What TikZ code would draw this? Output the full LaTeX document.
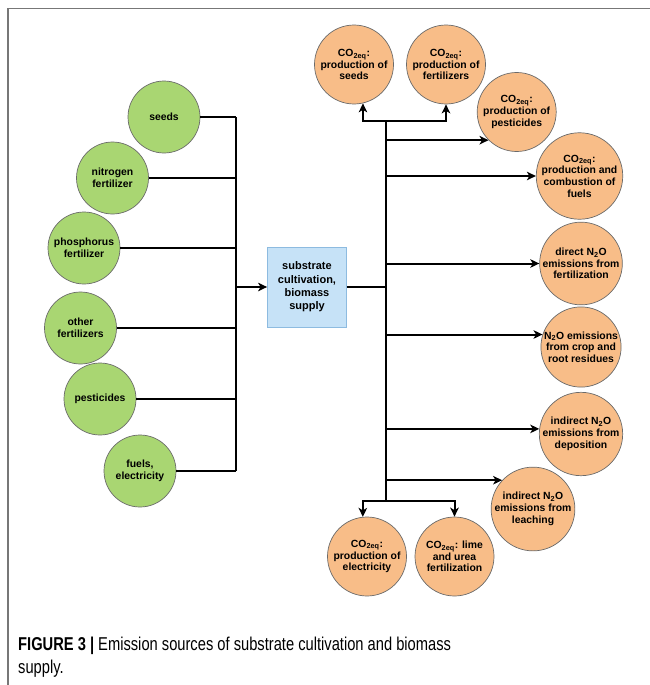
\documentclass[tikz,border=0pt]{standalone}
\usepackage{fontspec}
\setmainfont{Liberation Sans}
\newfontfamily\capfont[FakeStretch=0.79]{Liberation Sans}
\usetikzlibrary{arrows.meta}
\definecolor{gfill}{HTML}{A9D672}
\definecolor{ofill}{HTML}{F8BD88}
\definecolor{bfill}{HTML}{C6E2F7}
\definecolor{bdraw}{HTML}{8DBBE0}
\definecolor{cdraw}{HTML}{6A6A6A}
\definecolor{frame}{HTML}{777777}
\tikzset{
  x=1pt, y=-1pt,
  gcirc/.style={circle, draw=cdraw, line width=0.7pt, fill=gfill, minimum size=72pt, inner sep=0pt, align=center, font=\fontsize{10.4}{11.7}\selectfont\bfseries},
  ocirc/.style={circle, draw=cdraw, line width=0.7pt, fill=ofill, minimum size=79pt, inner sep=0pt, align=center, font=\fontsize{10.4}{11.7}\selectfont\bfseries},
  boxnode/.style={draw=bdraw, line width=0.8pt, fill=bfill, minimum width=79pt, minimum height=80pt, inner sep=0pt, align=center, font=\fontsize{11}{13.3}\selectfont\bfseries},
  conn/.style={line width=2pt, black},
  arr/.style={conn, -{Stealth[length=9pt,width=8.5pt,inset=2.5pt]}},
  captext/.style={anchor=base west, inner sep=0pt, font=\capfont\fontsize{18.6}{25}\selectfont, text=black}
}
\begin{document}
\begin{tikzpicture}
\useasboundingbox (0,0) rectangle (650,685);
% frame
\draw[frame, line width=1.6pt] (8,685) -- (8,8.5) -- (650,8.5);

% left circles
\node[gcirc] (seeds) at (164,117) {seeds};
\node[gcirc] (nitro) at (112.5,178) {nitrogen\\fertilizer};
\node[gcirc] (phos) at (84,248) {phosphorus\\fertilizer};
\node[gcirc] (other) at (80.5,328) {other\\fertilizers};
\node[gcirc] (pest) at (100,399) {pesticides};
\node[gcirc] (fuel) at (140,471) {fuels,\\electricity};

% central box
\node[boxnode] (box) at (307,287) {substrate\\cultivation,\\biomass\\supply};

% right circles
\node[ocirc] (cs) at (354,64.5) {CO\textsubscript{2eq}:\\production of\\seeds};
\node[ocirc] (cf) at (446,64.5) {CO\textsubscript{2eq}:\\production of\\fertilizers};
\node[ocirc] (cp) at (516.7,112) {CO\textsubscript{2eq}:\\production of\\pesticides};
\node[ocirc] (cfu) at (579.5,176) {CO\textsubscript{2eq}:\\production and\\combustion of\\fuels};
\node[ocirc] (cdn) at (581,263.5) {direct N\textsubscript{2}O\\emissions from\\fertilization};
\node[ocirc] (ccr) at (581,347) {N\textsubscript{2}O emissions\\from crop and\\root residues};
\node[ocirc] (cdep) at (581,434) {indirect N\textsubscript{2}O\\emissions from\\deposition};
\node[ocirc] (cle) at (533,509) {indirect N\textsubscript{2}O\\emissions from\\leaching};
\node[ocirc] (cel) at (367,556.5) {CO\textsubscript{2eq}:\\production of\\electricity};
\node[ocirc] (clu) at (454.5,556.5) {CO\textsubscript{2eq}: lime\\and urea\\fertilization};

% left collector
\coordinate (jl) at (236,287);
\draw[conn] (seeds.east) -- (seeds.east -| jl);
\draw[conn] (nitro.east) -- (nitro.east -| jl);
\draw[conn] (phos.east) -- (phos.east -| jl);
\draw[conn] (other.east) -- (other.east -| jl);
\draw[conn] (pest.east) -- (pest.east -| jl);
\draw[conn] (fuel.east) -- (fuel.east -| jl);
\draw[conn] (seeds.east -| jl) -- (fuel.east -| jl);
\draw[arr] (jl) -- (box.west);

% right trunk
\coordinate (jr) at (386,287);
\coordinate (tt) at (386,121);
\coordinate (bt) at (386,501);
\draw[conn] (box.east) -- (jr);
\draw[conn] (tt) -- (bt);
\draw[arr] (tt) -| (cs.-77);
\draw[arr] (tt) -| (cf.south);
\draw[arr] (cp.225 -| tt) -- (cp.225);
\draw[arr] (cfu.west -| tt) -- (cfu.west);
\draw[arr] (cdn.west -| tt) -- (cdn.west);
\draw[arr] (ccr.162 -| tt) -- (ccr.162);
\draw[arr] (cdep.173 -| tt) -- (cdep.173);
\draw[arr] (cle.137 -| tt) -- (cle.137);
\draw[arr] (bt) -| (cel.96);
\draw[arr] (bt) -| (clu.north);

% caption
\node[captext] (cap1) at (18,650) {\textbf{FIGURE 3 |} Emission sources of substrate cultivation and biomass};
\node[captext] (cap2) at (18,673) {supply.};
\end{tikzpicture}
\end{document}
